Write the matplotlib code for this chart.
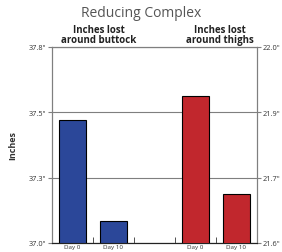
import numpy as np
import matplotlib
matplotlib.use("Agg")
import matplotlib.pyplot as plt
from matplotlib.ticker import FixedLocator, FuncFormatter

plt.rcParams['font.family'] = ['Open Sans', 'DejaVu Sans']

# data
days = ["Day 0", "Day 10", "", "Day 0", "Day 10"]
buttock = [37.50, 37.09]   # inches, left axis
thighs = [21.90, 21.70]    # inches, right axis
left_range = (37.0, 37.8)
right_range = (21.6, 22.0)

blue = "#2b4799"
red = "#c1272d"
grey = "#7f7f7f"

fig = plt.figure(figsize=(2.82, 2.53), dpi=100)
ax = fig.add_axes([0.184, 0.036, 0.727, 0.775])
ax2 = ax.twinx()

x = np.arange(len(days))
ax.bar(x[:2], buttock, width=0.64, color=blue, edgecolor="black", linewidth=0.8, zorder=3)
ax2.bar(x[3:], thighs, width=0.64, color=red, edgecolor="black", linewidth=0.8, zorder=3)

ax.set_xlim(-0.5, 4.5)
ax.set_ylim(*left_range)
ax2.set_ylim(*right_range)

fmt = FuncFormatter(lambda v, p: f'{v:.1f}"')
ax.yaxis.set_major_locator(FixedLocator(np.linspace(*left_range, 4)))
ax2.yaxis.set_major_locator(FixedLocator(np.linspace(*right_range, 4)))
ax.yaxis.set_major_formatter(fmt)
ax2.yaxis.set_major_formatter(fmt)
ax.grid(axis="y", color=grey, linewidth=0.8, zorder=0)

ax.set_xticks(x)
ax.set_xticklabels(days, fontsize=4.5, color="#333333")
ax.tick_params(axis="x", length=0, pad=1)
ax.set_xticks(x[:-1] + 0.5, minor=True)
ax.tick_params(axis="x", which="minor", direction="in", length=4, color="#333333")

for a in (ax, ax2):
    a.tick_params(axis="y", length=3, width=0.8, color=grey, labelsize=5.3, labelcolor="#333333", pad=1)
    for s in a.spines.values():
        s.set_color(grey)
        s.set_linewidth(0.8)
    a.spines["bottom"].set_color("#222222")

ax.set_ylabel("Inches", fontsize=6.5, fontweight="bold", color="#333333", labelpad=8)

fig.text(0.5, 0.947, "Reducing Complex", ha="center", va="center", fontsize=10, color="#555555")
fig.text(0.351, 0.86, "Inches lost\naround buttock", ha="center", va="center",
         fontsize=7, fontweight="bold", color="#222222", linespacing=0.9)
fig.text(0.78, 0.86, "Inches lost\naround thighs", ha="center", va="center",
         fontsize=7, fontweight="bold", color="#222222", linespacing=0.9)

fig.savefig("out.png", dpi=100)
